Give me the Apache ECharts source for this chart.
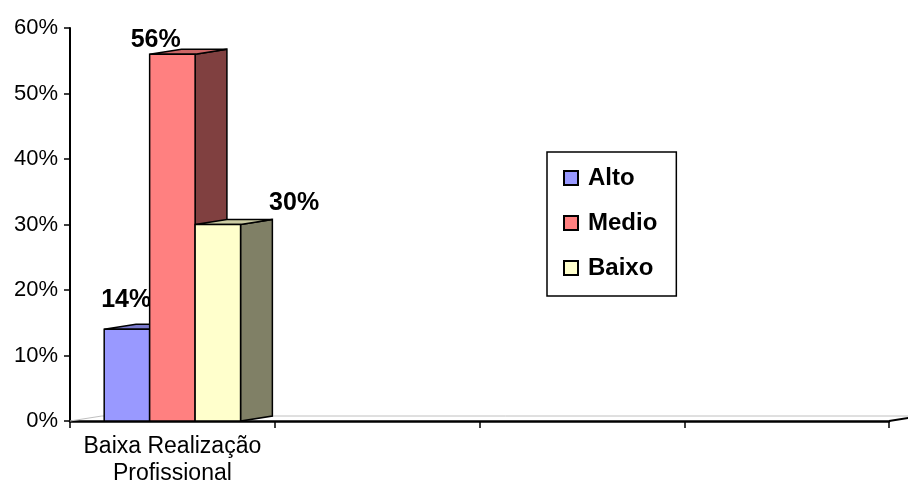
<!DOCTYPE html>
<html>
<head>
<meta charset="utf-8">
<script src="https://cdn.jsdelivr.net/npm/echarts@6/dist/echarts.min.js"></script>
<style>html,body{margin:0;padding:0;background:#fff;}#main{width:908px;height:487px;}</style>
</head>
<body>
<div id="main"></div>
<script>
const categories = ['Baixa Realização\nProfissional', '', '', ''];
const seriesNames = ['Alto', 'Medio', 'Baixo'];
const altoValues = [0.14];
const medioValues = [0.56];
const baixoValues = [0.30];
const yMin = 0, yMax = 0.6, yInterval = 0.1;

const FONT = 'Liberation Sans, Arial, sans-serif';
const frontColors = ['#9999FF', '#FF8080', '#FFFFCC'];
const sideColors = ['#4D4D80', '#804040', '#808066'];
const topColors = ['#7A7ACC', '#CC6666', '#CCCCA3'];
const labelOffsets = [[22, -29], [6, -14], [99, -21]];

function makeRender(idx) {
  return function (params, api) {
    const x = api.value(0), v = api.value(1);
    const top = api.coord([x, v]);
    const base = api.coord([x, 0]);
    const band = api.size([1, 0])[0];
    const w = band * 0.222;
    const dx = w * 0.7, dy = 5;
    const x0 = top[0] - 1.5 * w + idx * w;
    const ty = top[1], by = base[1];
    const stroke = { stroke: '#000', lineWidth: 1.5, lineJoin: 'miter' };
    return {
      type: 'group',
      children: [
        { type: 'polygon', shape: { points: [[x0 + w, ty], [x0 + w + dx, ty - dy], [x0 + w + dx, by - dy], [x0 + w, by]] },
          style: Object.assign({ fill: sideColors[idx] }, stroke) },
        { type: 'polygon', shape: { points: [[x0, ty], [x0 + dx, ty - dy], [x0 + w + dx, ty - dy], [x0 + w, ty]] },
          style: Object.assign({ fill: topColors[idx] }, stroke) },
        { type: 'rect', shape: { x: x0, y: ty, width: w, height: by - ty },
          style: Object.assign({ fill: frontColors[idx] }, stroke) },
        { type: 'text', style: { text: Math.round(v * 100) + '%', x: x0 + labelOffsets[idx][0], y: ty + labelOffsets[idx][1],
          fill: '#000', font: 'bold 25px ' + FONT, align: 'center', verticalAlign: 'middle' } }
      ]
    };
  };
}

const valueSets = [altoValues, medioValues, baixoValues];
const series = seriesNames.map((name, i) => ({
  name: name,
  type: 'custom',
  renderItem: makeRender(i),
  itemStyle: { color: frontColors[i], borderColor: '#000', borderWidth: 1.5 },
  encode: { x: 0, y: 1 },
  data: valueSets[i].map((v, k) => [k, v])
}));

const chart = echarts.init(document.getElementById('main'), null, { renderer: 'canvas' });
chart.setOption({
  animation: false,
  backgroundColor: '#fff',
  grid: { left: 70, right: 19, top: 28, bottom: 65 },
  legend: {
    orient: 'vertical',
    left: 547, top: 152,
    padding: [14, 19, 16, 16],
    itemGap: 21,
    itemWidth: 14, itemHeight: 14,
    borderColor: '#000', borderWidth: 1.5,
    icon: 'rect',
    textStyle: { fontFamily: FONT, fontWeight: 'bold', fontSize: 24, color: '#000', padding: [0, 0, 0, 5] },
    data: seriesNames
  },
  xAxis: {
    type: 'category',
    data: categories,
    boundaryGap: true,
    axisLine: { lineStyle: { color: '#000', width: 2.5 } },
    axisTick: { show: true, length: 7, lineStyle: { color: '#000', width: 1.5 } },
    axisLabel: { fontFamily: FONT, fontSize: 23, color: '#000', lineHeight: 27, margin: 12, interval: 0 },
    splitLine: { show: false }
  },
  yAxis: {
    type: 'value',
    min: yMin, max: yMax, interval: yInterval,
    axisLine: { show: true, lineStyle: { color: '#000', width: 2 } },
    axisTick: { show: true, length: 6, lineStyle: { color: '#000', width: 1.5 } },
    axisLabel: { fontFamily: FONT, fontSize: 22, color: '#000', margin: 12,
      formatter: v => Math.round(v * 100) + '%' },
    splitLine: { show: false }
  },
  series: series
});

// 3D floor outline
const p0 = chart.convertToPixel({ xAxisIndex: 0, yAxisIndex: 0 }, [0, 0]);
const band = chart.getModel().getComponent('xAxis', 0).axis.getBandWidth();
const leftX = p0[0] - band / 2;
const rightX = leftX + band * categories.length;
const fy = p0[1];
const dxF = band * 0.222 * 0.7, dyF = 5;
chart.setOption({
  graphic: [
    { type: 'polyline', z: 1, silent: true,
      shape: { points: [[leftX, fy], [leftX + dxF, fy - dyF], [rightX + dxF, fy - dyF]] },
      style: { stroke: '#C0C0C0', lineWidth: 1, fill: null } },
    { type: 'line', z: 1, silent: true,
      shape: { x1: rightX, y1: fy, x2: rightX + dxF, y2: fy - dyF },
      style: { stroke: '#000', lineWidth: 2 } }
  ]
});
</script>
</body>
</html>
